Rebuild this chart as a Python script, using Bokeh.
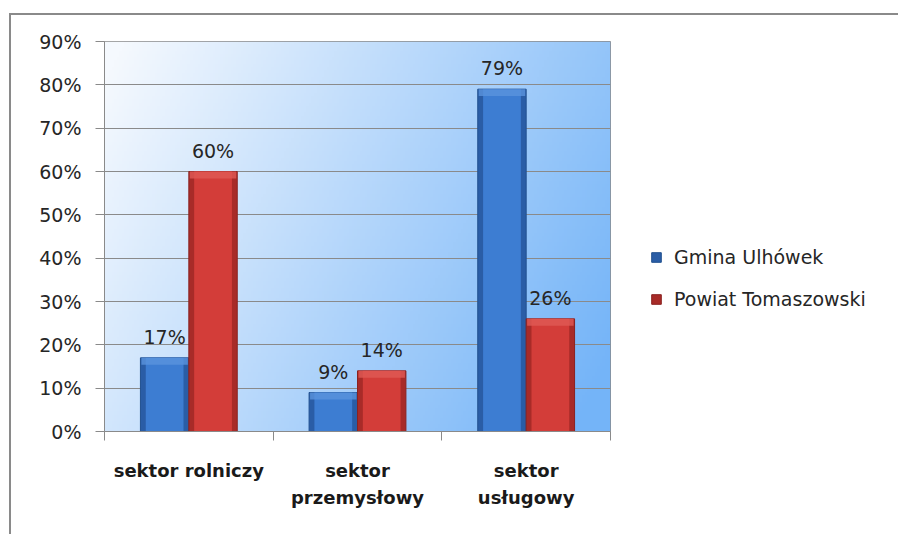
import numpy as np
from bokeh.plotting import figure
from bokeh.models import Range1d, FixedTicker, Legend, LegendItem, ColumnDataSource
from bokeh.core.properties import value
from bokeh.embed import file_html
from bokeh.resources import INLINE

# ---- data ----
categories = ["sektor rolniczy", "sektor\nprzemysłowy", "sektor\nusługowy"]
series_names = ["Gmina Ulhówek", "Powiat Tomaszowski"]
gmina = [0.17, 0.09, 0.79]
powiat = [0.60, 0.14, 0.26]
y_ticks = [0.0, 0.1, 0.2, 0.3, 0.4, 0.5, 0.6, 0.7, 0.8, 0.9]
y_tick_labels = ["0%", "10%", "20%", "30%", "40%", "50%", "60%", "70%", "80%", "90%"]

FONT = "DejaVu Sans"
BAR_W = 0.287

p = figure(frame_width=506, frame_height=390,
           min_border_left=95, min_border_right=288,
           min_border_top=28, min_border_bottom=103,
           x_range=Range1d(0, len(categories)), y_range=Range1d(0, 0.9),
           output_backend="svg", toolbar_location=None)
p.margin = (13, 0, 0, 9)
p.border_fill_alpha = 0
p.styles = {"box-shadow": "inset 2px 2px 0 #8a8a8a"}
p.outline_line_color = "#8a8a8a"
p.outline_line_width = 1

# background gradient for the plot area
ny, nx = 120, 200
u = np.linspace(0, 1, nx)[None, :]
v = np.linspace(0, 1, ny)[:, None]
t = np.clip(0.78 * u + 0.30 * (1 - v) - 0.03, 0, 1)
c0 = np.array([245, 249, 254])
c1 = np.array([116, 180, 248])
img = np.empty((ny, nx), dtype=np.uint32)
view = img.view(dtype=np.uint8).reshape((ny, nx, 4))
for k in range(3):
    view[:, :, k] = (c0[k] + (c1[k] - c0[k]) * t).astype(np.uint8)
view[:, :, 3] = 255
p.image_rgba(image=[img], x=0, y=0, dw=len(categories), dh=0.9, level="image")

# grid / axes
p.xgrid.visible = False
p.ygrid.ticker = FixedTicker(ticks=y_ticks)
p.ygrid.grid_line_color = "#8a8a8a"
p.ygrid.grid_line_width = 1

p.yaxis.ticker = FixedTicker(ticks=y_ticks)
p.yaxis.major_label_overrides = {tk: lb for tk, lb in zip(y_ticks, y_tick_labels)}
p.yaxis.axis_line_color = "#8a8a8a"
p.yaxis.major_tick_line_color = "#8a8a8a"
p.yaxis.major_tick_out = 9
p.yaxis.major_tick_in = 0
p.yaxis.minor_tick_line_color = None
p.yaxis.major_label_standoff = 14
p.yaxis.major_label_text_font = FONT
p.yaxis.major_label_text_font_size = "19px"
p.yaxis.major_label_text_color = "#262626"

centers = [i + 0.5 for i in range(len(categories))]
p.xaxis.ticker = FixedTicker(ticks=centers, minor_ticks=list(range(len(categories) + 1)))
p.xaxis.major_label_overrides = {c: lb for c, lb in zip(centers, categories)}
p.xaxis.axis_line_color = "#8a8a8a"
p.xaxis.major_tick_line_color = None
p.xaxis.major_tick_out = 0
p.xaxis.minor_tick_line_color = "#8a8a8a"
p.xaxis.minor_tick_out = 9
p.xaxis.minor_tick_in = 0
p.xaxis.major_label_standoff = 19
p.xaxis.major_label_text_font = FONT
p.xaxis.major_label_text_font_style = "bold"
p.xaxis.major_label_text_font_size = "18px"
p.xaxis.major_label_text_line_height = 1.3
p.xaxis.major_label_text_color = "#1a1a1a"

# bars
styles = [
    dict(dark="#2a5da6", mid="#3d7dd2", light="#5a93dd", edge="#21508f", offset=-BAR_W / 2),
    dict(dark="#a82b28", mid="#d33d39", light="#e05a55", edge="#8a2220", offset=BAR_W / 2),
]
items = []
for name, vals, st in zip(series_names, [gmina, powiat], styles):
    src = ColumnDataSource(dict(
        x=[c + st["offset"] for c in centers],
        top=vals,
        bevel=[max(v - 0.016, 0) for v in vals],
        lbl=["%d%%" % round(v * 100) for v in vals],
    ))
    r = p.vbar(x="x", top="top", width=BAR_W, source=src,
               fill_color=st["dark"], line_color=st["edge"], line_width=1)
    p.vbar(x="x", top="top", width=BAR_W * 0.78, source=src,
           fill_color=st["mid"], line_color=None)
    p.vbar(x="x", top="top", bottom="bevel", width=BAR_W * 0.96, source=src,
           fill_color=st["light"], line_color=None, fill_alpha=0.8)
    p.text(x="x", y="top", text="lbl", source=src, text_align="center",
           text_baseline="bottom", y_offset=-10, text_font=value(FONT),
           text_font_size="19px", text_color="#262626")
    items.append(LegendItem(label=name, renderers=[r]))

legend = Legend(items=items, location=(40, 120))
legend.border_line_color = None
legend.background_fill_alpha = 0
legend.padding = 0
legend.margin = 0
legend.glyph_width = 12
legend.glyph_height = 12
legend.label_standoff = 12
legend.label_height = 24
legend.spacing = 18
legend.label_text_font = FONT
legend.label_text_font_size = "19px"
legend.label_text_color = "#262626"
p.add_layout(legend, "right")

open("out.html", "w").write(file_html(p, INLINE))
